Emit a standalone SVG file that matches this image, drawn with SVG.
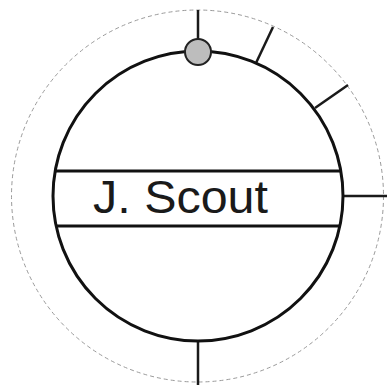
<svg xmlns="http://www.w3.org/2000/svg" width="387" height="385" viewBox="0 0 387 385">
<style>
.outer{fill:none;stroke:#9a9a9a;stroke-width:1;stroke-dasharray:4 3}
.main{fill:#fff;stroke:#111;stroke-width:3}
.ln{stroke:#1a1a1a;stroke-width:2.5;fill:none}
.band{stroke:#111;stroke-width:3;fill:none}
.dot{fill:#bdbdbd;stroke:#222;stroke-width:2}
.lbl{font-family:"Liberation Sans",Arial,sans-serif;font-size:47px;fill:#1a1a1a}
</style>
<rect width="387" height="385" fill="#fff"/>
<circle class="outer" cx="197.5" cy="196" r="186"/>
<g id="connectors">
<line class="ln" x1="198" y1="10" x2="198" y2="40"/>
<line class="ln" x1="256" y1="63" x2="273" y2="27"/>
<line class="ln" x1="315" y1="108" x2="348" y2="85"/>
<line class="ln" x1="343" y1="196" x2="387" y2="196"/>
<line class="ln" x1="198" y1="341" x2="198" y2="385"/>
</g>
<g id="node-scout">
<circle class="main" cx="198" cy="196" r="145"/>
<line class="band" x1="55" y1="171" x2="341" y2="171"/>
<line class="band" x1="56" y1="226" x2="340" y2="226"/>
<text class="lbl" x="93" y="213" textLength="175" lengthAdjust="spacingAndGlyphs">J. Scout</text>
</g>
<g id="node-port">
<circle class="dot" cx="198" cy="52" r="13"/>
</g>
</svg>
